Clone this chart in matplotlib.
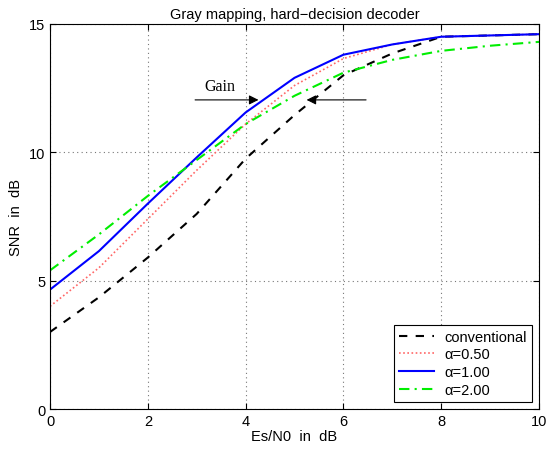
import numpy as np
import matplotlib
matplotlib.use("Agg")
import matplotlib.pyplot as plt

plt.rcParams['font.family'] = ['Liberation Sans', 'DejaVu Sans']

# Es/N0 points and SNR curves
esn0 = [0, 1, 2, 3, 4, 5, 6, 7, 8, 9, 10]
snr_conv = [3.0, 4.35, 5.9, 7.6, 9.75, 11.45, 13.0, 13.85, 14.5, 14.55, 14.6]
snr_a050 = [4.0, 5.5, 7.4, 9.3, 11.1, 12.6, 13.65, 14.2, 14.5, 14.55, 14.6]
snr_a100 = [4.65, 6.15, 8.0, 9.8, 11.55, 12.9, 13.8, 14.2, 14.5, 14.55, 14.6]
snr_a200 = [5.4, 6.8, 8.3, 9.7, 11.1, 12.2, 13.1, 13.6, 13.95, 14.15, 14.3]
labels = ['conventional', 'α=0.50', 'α=1.00', 'α=2.00']

fig = plt.figure(figsize=(5.46, 4.52), dpi=100)
ax = fig.add_axes([0.0916, 0.0929, 0.8956, 0.852])

ax.plot(esn0, snr_conv, color='black', ls=(0, (4, 4)), lw=1.5, label=labels[0])
ax.plot(esn0, snr_a050, color='#ff6666', ls=(0, (1, 1.5)), lw=1.2, label=labels[1])
ax.plot(esn0, snr_a100, color='blue', ls='-', lw=1.5, label=labels[2])
ax.plot(esn0, snr_a200, color='#00ee00', ls=(0, (5, 2.5, 1, 2.5)), lw=1.5, label=labels[3])

ax.set_xlim(0, 10)
ax.set_ylim(0, 15)
ax.set_xticks(np.arange(0, 11, 2))
ax.set_yticks([0, 5, 10, 15])
ax.grid(True, ls=(0, (1, 3)), color='#777777', lw=0.8)
ax.tick_params(direction='in', top=True, right=True, labelsize=10.5, length=4)
for s in ax.spines.values():
    s.set_linewidth(0.8)

ax.set_xlabel('Es/N0  in  dB', fontsize=10.5, labelpad=1)
ax.set_ylabel('SNR  in  dB', fontsize=10.5, labelpad=4)
ax.set_title('Gray mapping, hard\u2212decision decoder', fontsize=10.5, pad=4)

# gain annotation
ax.annotate('', xy=(4.32, 12.04), xytext=(2.91, 12.04),
            arrowprops=dict(arrowstyle='-|>', color='black', lw=0.8, mutation_scale=14))
ax.annotate('', xy=(5.19, 12.04), xytext=(6.52, 12.04),
            arrowprops=dict(arrowstyle='-|>', color='black', lw=0.8, mutation_scale=14))
ax.text(3.16, 12.6, 'Gain', family='Liberation Serif', fontsize=11.5, ha='left', va='center')

leg = ax.legend(loc='lower right', fontsize=10.5, fancybox=False, edgecolor='black',
                framealpha=1, borderaxespad=0.5, handlelength=2.4, labelspacing=0.25,
                borderpad=0.35, handletextpad=0.7)
leg.get_frame().set_linewidth(0.8)

fig.savefig('out.png', dpi=100)
